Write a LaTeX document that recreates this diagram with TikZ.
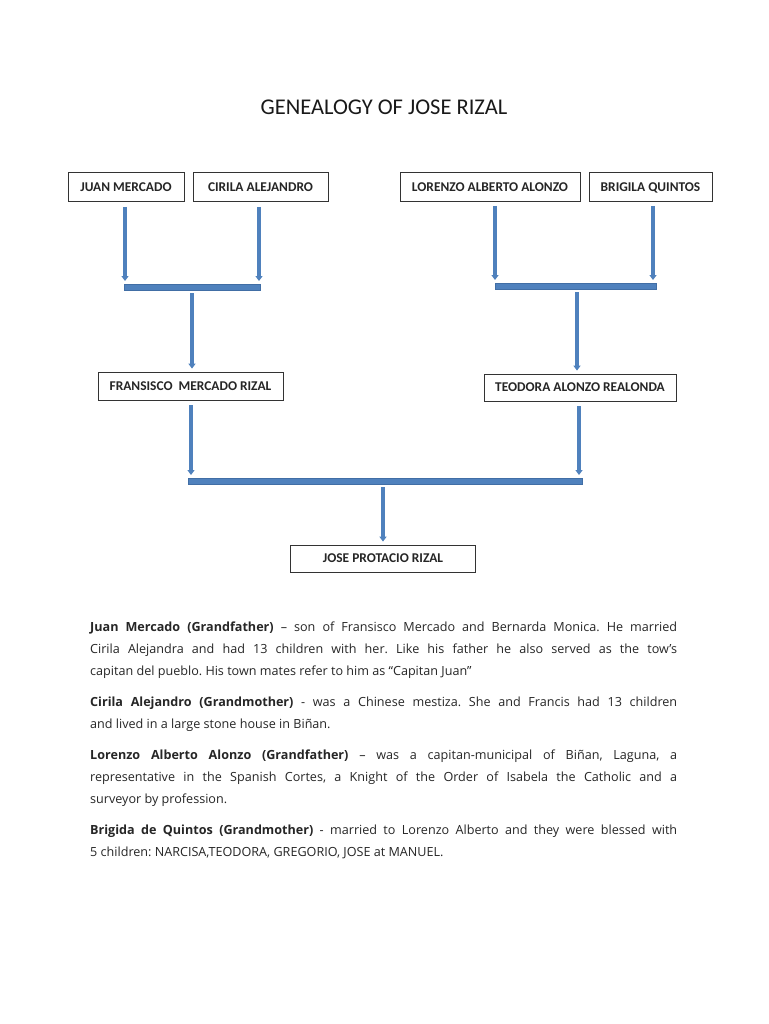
\documentclass[tikz,border=0pt]{standalone}
\usepackage{fontspec}
\setmainfont{Carlito}
\newfontfamily\parafont{Open Sans}
\usetikzlibrary{arrows.meta}
\definecolor{barblue}{RGB}{79,129,189}
\definecolor{bardark}{RGB}{65,110,165}
\begin{document}
\begin{tikzpicture}[x=1pt,y=-1pt,
  person/.style={draw=black!80, line width=0.8pt, rectangle, inner sep=0pt, minimum height=29pt,
    text height=8.8pt, text depth=0pt,
    font=\fontsize{13.4}{15}\selectfont\bfseries, text=black!85},
  bar/.style={rectangle, fill=barblue, draw=bardark, line width=0.5pt, minimum height=5.5pt, inner sep=0pt},
  arr/.style={draw=barblue, line width=3.6pt, -{Triangle[width=7pt,length=5pt]}, shorten >=3pt}
]
\useasboundingbox (0,0) rectangle (768,1024);
\fill[white] (0,0) rectangle (768,1024);

\node[font=\fontsize{22.5}{25}\selectfont, text=black!90] (title) at (384,107) {GENEALOGY OF JOSE RIZAL};

\node[person, minimum width=116pt] (juan) at (126,187) {JUAN MERCADO};
\node[person, minimum width=135pt] (cirila) at (260.5,187) {CIRILA ALEJANDRO};
\node[person, minimum width=180pt] (lorenzo) at (490,187) {LORENZO ALBERTO ALONZO};
\node[person, minimum width=123pt] (brigila) at (650.5,187) {BRIGILA QUINTOS};

\node[person, minimum width=185pt, minimum height=28pt] (fransisco) at (190.5,386) {FRANSISCO\ \ MERCADO RIZAL};
\node[person, minimum width=192pt, minimum height=27pt] (teodora) at (580,387.5) {TEODORA ALONZO REALONDA};
\node[person, minimum width=185pt, minimum height=27pt] (jose) at (383,558.5) {JOSE PROTACIO RIZAL};

\node[bar, minimum width=136pt] (bar1) at (192,287) {};
\node[bar, minimum width=161pt] (bar2) at (575.5,286) {};
\node[bar, minimum width=394pt] (bar3) at (385,481) {};

\coordinate (a1) at (125,0);
\coordinate (a2) at (259,0);
\coordinate (a3) at (495,0);
\coordinate (a4) at (653,0);
\draw[arr] ([yshift=-5pt]juan.south -| a1) -- (bar1.north -| a1);
\draw[arr] ([yshift=-5pt]cirila.south -| a2) -- (bar1.north -| a2);
\draw[arr] ([yshift=-4pt]lorenzo.south -| a3) -- (bar2.north -| a3);
\draw[arr] ([yshift=-4pt]brigila.south -| a4) -- (bar2.north -| a4);

\draw[arr] ([yshift=-3pt]bar1.south) -- (fransisco.north -| bar1.south);
\coordinate (a5) at (577,0);
\draw[arr] ([yshift=-3pt]bar2.south -| a5) -- (teodora.north -| a5);

\coordinate (a6) at (191,0);
\coordinate (a7) at (579,0);
\draw[arr] ([yshift=-5pt]fransisco.south -| a6) -- (bar3.north -| a6);
\draw[arr] ([yshift=-5pt]teodora.south -| a7) -- (bar3.north -| a7);
\coordinate (a8) at (383,0);
\draw[arr] ([yshift=-3pt]bar3.south -| a8) -- (jose.north -| a8);

\node[anchor=north west, inner sep=0pt, text width=587pt, align=justify,
  font=\parafont\fontsize{12.6}{22}\selectfont, text=black!85] (desc) at (90,622) {%
\hbadness=10000\parskip=9pt\frenchspacing
\textbf{Juan Mercado (Grandfather)} – son of Fransisco Mercado and Bernarda Monica. He married\linebreak
Cirila Alejandra and had 13 children with her. Like his father he also served as the tow’s\linebreak
capitan del pueblo. His town mates refer to him as “Capitan Juan”\par
\textbf{Cirila Alejandro (Grandmother)} - was a Chinese mestiza. She and Francis had 13 children\linebreak
and lived in a large stone house in Biñan.\par
\textbf{Lorenzo Alberto Alonzo (Grandfather)} – was a capitan-municipal of Biñan, Laguna, a\linebreak
representative in the Spanish Cortes, a Knight of the Order of Isabela the Catholic and a\linebreak
surveyor by profession.\par
\textbf{Brigida de Quintos (Grandmother)} - married to Lorenzo Alberto and they were blessed with\linebreak
5 children: NARCISA,TEODORA, GREGORIO, JOSE at MANUEL.\par};
\end{tikzpicture}
\end{document}
